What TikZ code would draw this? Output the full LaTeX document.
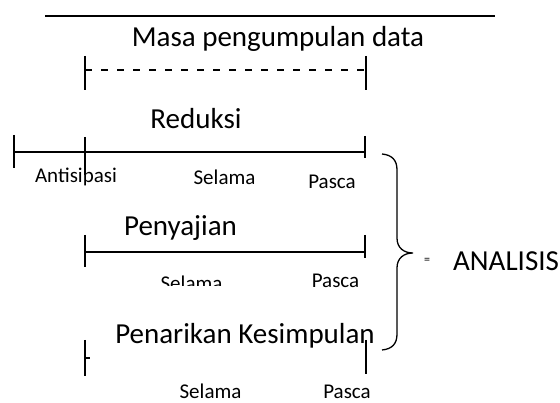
\documentclass[tikz,border=0pt]{standalone}
\usepackage{fontspec}
\setmainfont{Carlito}
\tikzset{
  big/.style={font=\fontsize{29}{32}\selectfont, inner sep=0pt, anchor=base},
  small/.style={font=\fontsize{21}{24}\selectfont, inner sep=0pt, anchor=base},
  bar/.style={line width=1.3pt},
}
\begin{document}
\begin{tikzpicture}[x=1pt,y=-1pt]
  \useasboundingbox (0,0) rectangle (560,403);

  % Ligne du haut et titre
  \coordinate (hautG) at (45,16);
  \coordinate (hautD) at (495,16);
  \draw[bar] (hautG) -- (hautD);
  \node[big] (masa) at (278,47) {Masa pengumpulan data};

  % Masa pengumpulan (pointillés)
  \coordinate (dG) at (85,70);
  \coordinate (dD) at (366,70);
  \draw[bar] (85,56) -- (85,90);
  \draw[bar] (366,56) -- (366,90);
  \draw[bar, dash pattern=on 7pt off 9pt] (dG) -- (dD);

  % Reduksi
  \node[big] (reduksi) at (196,128.5) {Reduksi};
  \coordinate (rA) at (14,152);
  \coordinate (rB) at (85,152);
  \coordinate (rC) at (365,152);
  \draw[bar] (rA) -- (rC);
  \draw[bar] (14,135) -- (14,168);
  \draw[bar] (85,137) -- (85,175);
  \draw[bar] (365,136) -- (365,158);
  \node[small] (antisipasi) at (76,183) {Antisipasi};
  \node[small] (selama1) at (224.5,185) {Selama};
  \node[small] (pasca1) at (332,189) {Pasca};

  % Penyajian
  \node[big] (penyajian) at (180.5,236) {Penyajian};
  \coordinate (pA) at (85,252);
  \coordinate (pB) at (365,252);
  \draw[bar] (pA) -- (pB);
  \draw[bar] (85,235) -- (85,267);
  \draw[bar] (365,235) -- (365,258);
  \begin{scope}
    \clip (150,260) rectangle (240,286);
    \node[small] (selama2) at (191.5,291) {Selama};
  \end{scope}
  \node[small] (pasca2) at (335.5,288) {Pasca};

  % Penarikan Kesimpulan
  \node[big] (penarikan) at (245,343.5) {Penarikan Kesimpulan};
  \coordinate (kA) at (85,358);
  \coordinate (kB) at (90,358);
  \draw[bar] (85,340) -- (85,376);
  \draw[bar] (kA) -- (kB);
  \draw[bar] (366,340) -- (366,374);
  \node[small] (selama3) at (210.5,399) {Selama};
  \node[small] (pasca3) at (347,399) {Pasca};

  % Accolade
  \coordinate (acH) at (382,154);
  \coordinate (acP) at (413,253);
  \coordinate (acB) at (382,350);
  \draw[bar] (acH) .. controls (392,155) and (397,160) .. (397,170)
    -- (397,238) .. controls (397,248) and (404,253) .. (acP)
    .. controls (404,253) and (397,258) .. (397,268)
    -- (397,334) .. controls (397,344) and (392,349) .. (acB);

  % Analisis
  \node[font=\fontsize{12}{13}\selectfont, inner sep=0pt] (egal) at (427,261) {=};
  \node[big, anchor=base west] (analisis) at (453,271) {ANALISIS};
\end{tikzpicture}
\end{document}
